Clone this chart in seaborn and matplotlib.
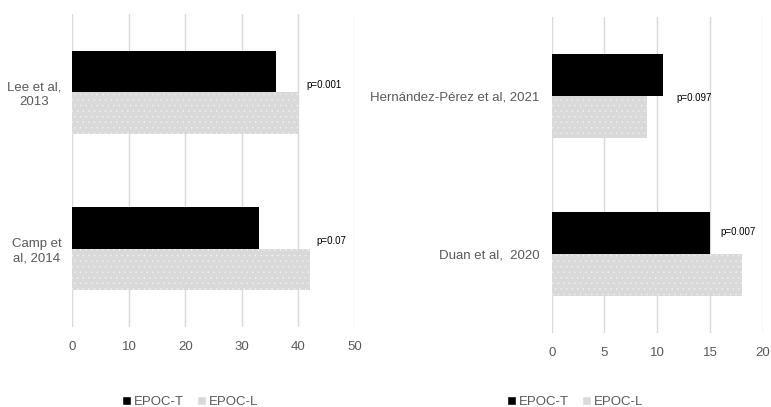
import matplotlib
matplotlib.use("Agg")
import matplotlib.pyplot as plt
import seaborn as sns
import pandas as pd

# left panel
estudios_izq = ["Lee et al,\n2013", "Camp et\nal, 2014"]
epoc_t_izq = [36, 33]
epoc_l_izq = [40, 42]
p_izq = ["p=0.001", "p=0.07"]

# right panel
estudios_der = ["Hernández-Pérez et al, 2021", "Duan et al,  2020"]
epoc_t_der = [10.5, 15]
epoc_l_der = [9, 18]
p_der = ["p=0.097", "p=0.007"]

grupos = ["EPOC-T", "EPOC-L"]
colores = {"EPOC-T": "#000000", "EPOC-L": "#d9d9d9"}
GRIS = "#595959"

sns.set_theme(style="white")
plt.rcParams["font.family"] = ["Liberation Sans", "DejaVu Sans"]
plt.rcParams["hatch.linewidth"] = 0.3


def armar_df(estudios, t, l):
    filas = []
    for e, a, b in zip(estudios, t, l):
        filas.append({"estudio": e, "grupo": "EPOC-T", "valor": a})
        filas.append({"estudio": e, "grupo": "EPOC-L", "valor": b})
    return pd.DataFrame(filas)


def panel(ax, df, estudios, xmax, paso, pvals, ppos, pad):
    sns.barplot(data=df, y="estudio", x="valor", hue="grupo", order=estudios,
                hue_order=grupos, palette=colores, orient="h", width=0.53,
                ax=ax, legend=False, errorbar=None, saturation=1)
    for barra in ax.containers[0]:
        barra.set_linewidth(0)
    for barra in ax.containers[1]:
        barra.set_hatch("...")
        barra.set_edgecolor("#f4f4f4")
        barra.set_linewidth(0)
    ax.set_xlim(0, xmax)
    ax.set_xticks(range(0, xmax + 1, paso))
    ax.set_ylim(1.5, -0.5)
    ax.grid(axis="x", color="#d9d9d9", linewidth=1)
    ax.set_axisbelow(True)
    for s in ax.spines.values():
        s.set_visible(False)
    ax.set_xlabel("")
    ax.set_ylabel("")
    ax.tick_params(axis="x", colors=GRIS, labelsize=9.5, length=0, pad=10)
    ax.tick_params(axis="y", colors=GRIS, labelsize=9.5, length=0, pad=pad)
    for i, (txt, (px, dy)) in enumerate(zip(pvals, ppos)):
        ax.text(px, i + dy, txt, fontsize=7, color="black", ha="left", va="center")


fig = plt.figure(figsize=(7.71, 4.07), dpi=100)
ax1 = fig.add_axes([0.094, 0.1966, 0.3664, 0.769])
ax2 = fig.add_axes([0.7156, 0.1818, 0.2737, 0.7764])

panel(ax1, armar_df(estudios_izq, epoc_t_izq, epoc_l_izq), estudios_izq, 50, 10,
      p_izq, [(41.4, -0.045), (43.2, -0.05)], 8)
for lab in ax1.get_yticklabels():
    lab.set_multialignment("center")
panel(ax2, armar_df(estudios_der, epoc_t_der, epoc_l_der), estudios_der, 20, 5,
      p_der, [(11.8, 0.015), (16.0, -0.14)], 9)

from matplotlib.patches import Patch
manejadores = [Patch(facecolor=colores[g], label=g) for g in grupos]
for cx in (190 / 771, 575 / 771):
    fig.legend(handles=manejadores, loc="center", bbox_to_anchor=(cx, 5 / 407),
               ncol=2, frameon=False, fontsize=9.5, labelcolor=GRIS,
               handlelength=0.7, handleheight=0.7, handletextpad=0.2,
               columnspacing=1.0)

fig.savefig("out.png", dpi=100)
